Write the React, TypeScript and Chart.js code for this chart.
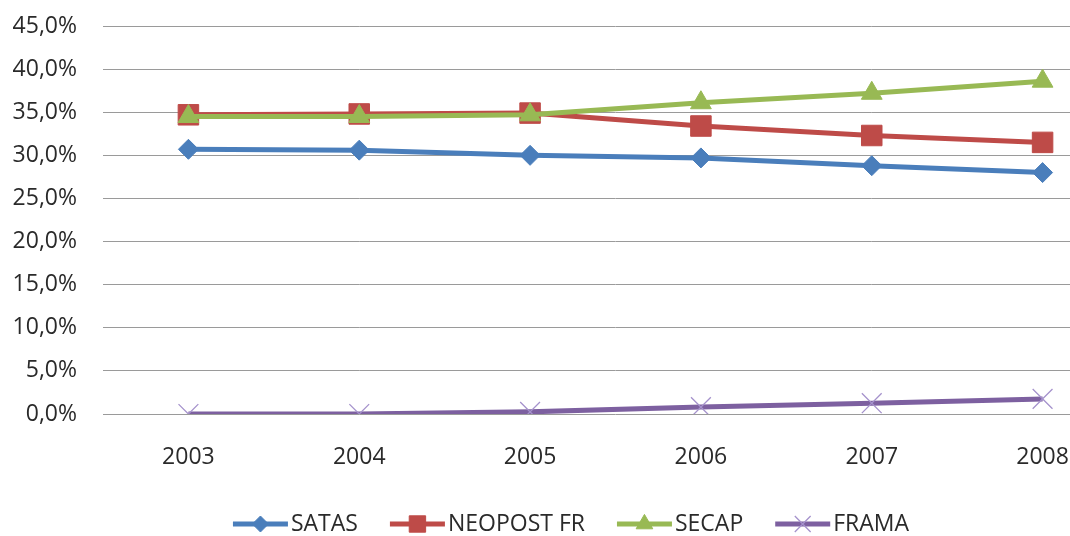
import React, { useEffect, useRef } from "react";
import { Chart, registerables, PointElement } from "chart.js";

Chart.register(...registerables);

const years = ["2003", "2004", "2005", "2006", "2007", "2008"];
const satas = [30.7, 30.6, 30.0, 29.7, 28.8, 28.0];
const neopost = [34.7, 34.8, 34.9, 33.4, 32.3, 31.5];
const secap = [34.5, 34.5, 34.7, 36.1, 37.2, 38.6];
const frama = [0.0, 0.0, 0.25, 0.8, 1.25, 1.75];
const seriesNames = ["SATAS", "NEOPOST FR", "SECAP", "FRAMA"];

const FONT = "'Open Sans', 'Noto Sans', sans-serif";
const TEXT = "#2a2a2a";

const legendPlugin = {
  id: "excelLegend",
  afterDraw(chart: any) {
    const ctx = chart.ctx;
    const ds = chart.data.datasets;
    ctx.save();
    ctx.font = `23px ${FONT}`;
    const lineLen = 55;
    const textGap = 3;
    const itemGap = 32;
    const widths = ds.map((d: any) => ctx.measureText(d.label).width);
    let total = 0;
    widths.forEach((w: number, i: number) => {
      total += lineLen + textGap + w + (i < widths.length - 1 ? itemGap : 0);
    });
    let x = 571 - total / 2;
    const y = 524;
    ds.forEach((d: any, i: number) => {
      ctx.strokeStyle = d.borderColor;
      ctx.lineWidth = 5;
      ctx.beginPath();
      ctx.moveTo(x, y);
      ctx.lineTo(x + lineLen, y);
      ctx.stroke();
      const p: any = new PointElement({});
      p.x = x + lineLen / 2;
      p.y = y;
      p.options = {
        pointStyle: d.pointStyle,
        rotation: 0,
        radius: d.pointRadius * 0.8,
        borderWidth: d.pointBorderWidth,
        borderColor: d.pointBorderColor,
        backgroundColor: d.pointBackgroundColor,
      };
      p.draw(ctx);
      ctx.fillStyle = TEXT;
      ctx.textBaseline = "middle";
      ctx.textAlign = "left";
      ctx.fillText(d.label, x + lineLen + textGap, y);
      x += lineLen + textGap + widths[i] + itemGap;
    });
    ctx.restore();
  },
};

export default function App() {
  const ref = useRef<HTMLCanvasElement | null>(null);
  useEffect(() => {
    if (!ref.current) return;
    const mk = (
      label: string,
      data: number[],
      color: string,
      style: string,
      radius: number,
      order: number,
      markerColor?: string,
      bw = 1
    ) => ({
      label,
      data,
      borderColor: color,
      backgroundColor: color,
      borderWidth: 5,
      tension: 0,
      pointStyle: style,
      pointRadius: radius,
      pointHoverRadius: radius,
      pointBorderWidth: bw,
      pointBorderColor: markerColor || color,
      pointBackgroundColor: markerColor || color,
      order,
    });
    const chart = new Chart(ref.current, {
      type: "line",
      data: {
        labels: years,
        datasets: [
          mk(seriesNames[0], satas, "#4A7EBB", "rectRot", 10, 3),
          mk(seriesNames[1], neopost, "#BE4B48", "rect", 14.5, 2),
          mk(seriesNames[2], secap, "#98B954", "triangle", 12, 1),
          mk(seriesNames[3], frama, "#7D60A0", "crossRot", 14, 0, "#A592CC", 1.3),
        ] as any,
      },
      options: {
        animation: false,
        responsive: false,
        devicePixelRatio: 1,
        layout: { autoPadding: false, padding: { top: 26, left: 0, right: 0, bottom: 0 } },
        plugins: {
          legend: { display: false },
          tooltip: { enabled: false },
        },
        scales: {
          x: {
            offset: true,
            grid: { display: false, drawTicks: false },
            border: { display: false },
            ticks: {
              padding: 30,
              color: TEXT,
              font: { family: FONT, size: 23 },
              maxRotation: 0,
            },
            afterFit: (s: any) => {
              s.height = 122;
              s.paddingLeft = 0;
              s.paddingRight = 0;
            },
          },
          y: {
            min: 0,
            max: 45,
            grid: { color: "#9A9A9A", lineWidth: 1, drawTicks: false },
            border: { display: false },
            ticks: {
              stepSize: 5,
              padding: 26,
              color: TEXT,
              font: { family: FONT, size: 23 },
              callback: (v: any) => Number(v).toFixed(1).replace(".", ",") + "%",
            },
            afterFit: (s: any) => {
              s.width = 103;
              s.paddingTop = 0;
              s.paddingBottom = 0;
            },
          },
        },
      } as any,
      plugins: [legendPlugin],
    });
    return () => chart.destroy();
  }, []);
  return (
    <div
      style={{
        position: "absolute",
        left: 0,
        top: 0,
        width: 1070,
        height: 536,
        overflow: "hidden",
        background: "#fff",
      }}
    >
      <canvas ref={ref} width={1128} height={536} style={{ display: "block" }} />
    </div>
  );
}
